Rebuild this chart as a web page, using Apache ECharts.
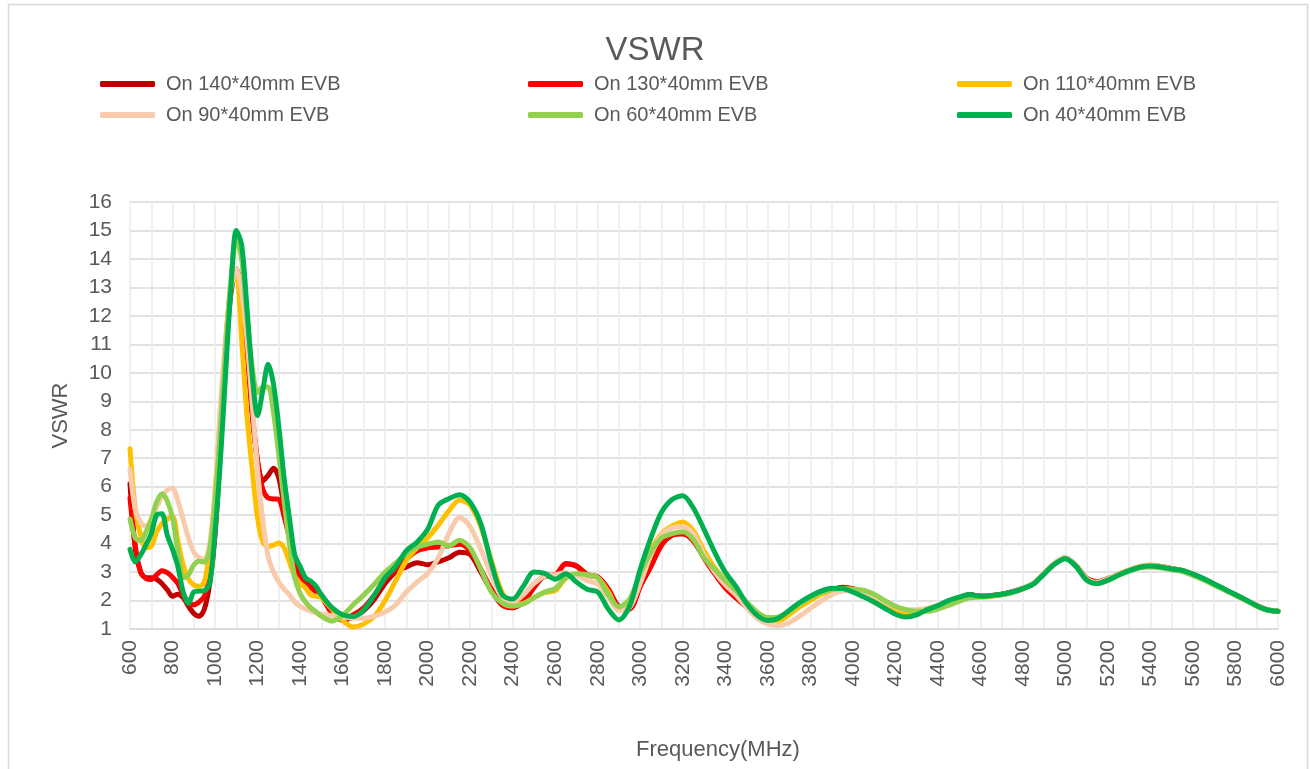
<!DOCTYPE html>
<html>
<head>
<meta charset="utf-8">
<script src="https://cdn.jsdelivr.net/npm/echarts@6/dist/echarts.min.js"></script>
<style>
html,body{margin:0;padding:0;background:#fff;}
#chart{width:1310px;height:769px;}
</style>
</head>
<body>
<div id="chart"></div>
<script>
// ---------- DATA ----------
var titleText = 'VSWR';
var xAxisName = 'Frequency(MHz)';
var yAxisName = 'VSWR';
var seriesNames = ['On 140*40mm EVB','On 130*40mm EVB','On 110*40mm EVB','On 90*40mm EVB','On 60*40mm EVB','On 40*40mm EVB'];

var freq = [600,625,650,675,700,725,750,775,800,825,850,875,900,925,950,975,1000,1025,1050,1075,1100,1125,1150,1175,1200,1225,1250,1275,1300,1325,1350,1375,1400,1425,1450,1475,1500,
1550,1600,1650,1700,1750,1800,1850,1900,1950,2000,2050,2100,2150,2200,2250,2300,2350,2400,2450,2500,2550,2600,2650,2700,2750,2800,2850,2900,2950,3000,
3050,3100,3150,3200,3250,3300,3350,3400,3450,3500,3550,3600,3650,3700,3750,3800,3850,3900,3950,4000,4050,4100,4150,4200,4250,4300,4350,
4400,4450,4500,4550,4600,4650,4700,4750,4800,4850,4900,4950,5000,5050,5100,5150,5200,5250,5300,5350,5400,5450,5500,5550,5600,5650,5700,5750,5800,5850,5900,5950,6000];

var evb140 = [6.1,3.8,3.0,2.8,2.8,2.75,2.6,2.38,2.15,2.22,2.1,1.8,1.55,1.45,1.7,2.6,4.3,7.3,10.7,12.8,13.65,12.95,10.9,8.5,6.9,6.2,6.4,6.65,6.3,5.3,4.4,3.5,3.0,2.7,2.5,2.35,2.2,
1.6,1.3,1.42,1.65,2.05,2.6,3.0,3.18,3.33,3.26,3.36,3.5,3.7,3.62,3.0,2.35,1.85,1.75,1.95,2.45,2.85,2.88,3.3,3.2,2.9,2.82,2.4,1.8,1.75,2.5,
3.2,3.95,4.3,4.35,4.1,3.5,2.95,2.45,2.1,1.78,1.5,1.35,1.35,1.55,1.8,2.05,2.25,2.38,2.45,2.4,2.3,2.1,1.9,1.72,1.65,1.65,1.7,
1.8,1.97,2.1,2.2,2.15,2.17,2.22,2.31,2.43,2.6,2.96,3.3,3.49,3.22,2.76,2.65,2.76,2.92,3.06,3.18,3.22,3.19,3.12,3.05,2.92,2.76,2.57,2.38,2.2,2.01,1.82,1.68,1.62];

var evb130 = [5.6,3.9,3.0,2.78,2.74,2.9,3.05,2.98,2.82,2.6,2.2,1.95,1.85,1.95,2.15,2.9,4.7,7.8,11.0,13.0,13.6,12.85,10.9,8.6,6.9,5.9,5.6,5.57,5.55,4.95,4.2,3.35,2.8,2.58,2.45,2.3,2.15,
1.55,1.38,1.5,1.75,2.2,2.75,3.1,3.45,3.75,3.85,3.88,3.92,3.98,3.75,3.1,2.4,1.85,1.75,2.0,2.5,2.87,2.9,3.28,3.22,2.92,2.83,2.4,1.76,1.7,2.5,
3.2,3.95,4.3,4.35,4.1,3.5,2.95,2.45,2.1,1.78,1.5,1.35,1.36,1.56,1.8,2.05,2.25,2.38,2.47,2.42,2.3,2.1,1.9,1.72,1.65,1.65,1.7,
1.8,1.98,2.1,2.2,2.16,2.17,2.21,2.3,2.42,2.6,2.95,3.3,3.5,3.23,2.78,2.66,2.77,2.92,3.07,3.18,3.22,3.2,3.12,3.05,2.92,2.76,2.57,2.38,2.2,2.01,1.82,1.67,1.62];

var evb110 = [7.33,5.2,4.3,3.85,3.9,4.4,4.7,4.85,4.95,4.1,3.25,2.75,2.55,2.5,2.65,3.8,5.8,8.5,11.0,13.0,13.5,11.2,8.5,6.6,4.9,4.05,3.9,3.95,4.02,3.85,3.35,2.85,2.6,2.45,2.2,2.15,2.1,
1.7,1.3,1.07,1.18,1.45,2.0,2.7,3.4,3.85,4.2,4.65,5.15,5.52,5.35,4.6,3.4,2.3,1.85,1.9,2.1,2.28,2.35,2.78,2.92,2.9,2.8,2.3,1.7,1.9,2.85,
3.75,4.35,4.62,4.75,4.45,3.75,3.15,2.7,2.3,1.85,1.5,1.32,1.3,1.5,1.78,2.0,2.22,2.35,2.42,2.38,2.28,2.1,1.88,1.68,1.55,1.58,1.72,
1.82,1.96,2.08,2.18,2.15,2.17,2.2,2.3,2.42,2.6,2.95,3.3,3.5,3.22,2.75,2.63,2.75,2.93,3.08,3.2,3.25,3.2,3.12,3.05,2.92,2.76,2.57,2.39,2.2,2.01,1.82,1.67,1.62];

var evb90 = [6.6,5.2,4.75,4.6,4.85,5.27,5.65,5.88,5.95,5.5,4.85,4.2,3.7,3.5,3.45,4.0,5.7,8.8,11.2,13.0,13.65,12.9,11.2,8.9,6.6,4.8,3.55,3.0,2.65,2.4,2.2,1.95,1.8,1.7,1.63,1.57,1.53,
1.47,1.42,1.38,1.38,1.45,1.6,1.85,2.3,2.65,2.95,3.5,4.35,4.92,4.6,3.8,2.9,2.15,1.95,2.2,2.6,2.85,2.9,2.98,2.88,2.7,2.58,2.1,1.65,1.75,2.6,
3.6,4.3,4.55,4.6,4.35,3.6,3.0,2.55,2.2,1.75,1.38,1.18,1.12,1.22,1.45,1.72,1.98,2.2,2.33,2.35,2.3,2.15,1.95,1.78,1.68,1.68,1.72,
1.8,1.95,2.08,2.17,2.14,2.16,2.2,2.3,2.43,2.62,2.97,3.32,3.52,3.24,2.76,2.64,2.76,2.92,3.07,3.19,3.23,3.19,3.11,3.04,2.91,2.75,2.56,2.38,2.2,2.01,1.82,1.67,1.62];

var evb60 = [4.86,4.2,4.1,4.4,4.85,5.45,5.75,5.5,4.9,3.75,2.8,2.9,3.25,3.38,3.35,3.8,5.5,8.0,10.8,13.3,14.7,14.0,12.0,10.2,9.3,9.5,9.5,8.6,7.1,5.5,4.0,2.8,2.25,1.95,1.75,1.6,1.45,
1.28,1.48,1.85,2.2,2.58,3.0,3.32,3.65,3.88,3.98,4.06,3.92,4.12,3.85,3.1,2.3,1.92,1.8,1.88,2.1,2.3,2.42,2.8,2.94,2.9,2.8,2.2,1.78,2.05,2.95,
3.7,4.2,4.35,4.42,4.15,3.5,3.1,2.7,2.35,1.95,1.6,1.4,1.42,1.62,1.88,2.1,2.28,2.38,2.42,2.4,2.36,2.22,2.0,1.8,1.68,1.62,1.62,
1.7,1.83,1.97,2.1,2.12,2.15,2.2,2.28,2.42,2.6,2.95,3.3,3.48,3.2,2.72,2.6,2.7,2.88,3.03,3.15,3.18,3.15,3.08,3.02,2.88,2.72,2.54,2.36,2.18,2.0,1.8,1.66,1.62];

var evb40 = [3.8,3.35,3.6,3.95,4.35,5.0,5.05,4.3,3.8,3.2,2.3,1.9,2.3,2.33,2.35,2.6,4.4,6.9,10.0,13.0,15.0,14.5,12.3,9.9,8.5,9.4,10.3,9.6,8.1,6.3,4.9,3.6,3.2,2.8,2.68,2.5,2.2,
1.75,1.5,1.44,1.68,2.2,2.8,3.2,3.75,4.05,4.5,5.35,5.58,5.72,5.45,4.7,3.3,2.2,2.05,2.5,3.0,2.95,2.75,2.94,2.65,2.4,2.3,1.7,1.32,1.8,3.1,
4.2,5.1,5.55,5.68,5.25,4.5,3.7,3.0,2.5,1.9,1.48,1.3,1.38,1.65,1.93,2.15,2.33,2.43,2.42,2.3,2.13,1.95,1.73,1.52,1.42,1.5,1.68,
1.82,2.0,2.12,2.21,2.15,2.18,2.22,2.3,2.42,2.58,2.93,3.28,3.47,3.2,2.72,2.6,2.72,2.9,3.05,3.17,3.21,3.18,3.11,3.06,2.93,2.77,2.58,2.4,2.21,2.02,1.82,1.67,1.62];

var seriesValues = [evb140, evb130, evb110, evb90, evb60, evb40];

// ---------- STYLE ----------
var colors = ['#C00000','#FF0000','#FFC000','#F8CBAD','#92D050','#00B050'];
var FONT = 'Liberation Sans';
var TXT = '#595959';

function pairs(vals){
  var out = [];
  for (var i = 0; i < freq.length; i++) out.push([freq[i], vals[i]]);
  return out;
}

var legendPos = [
  {left: 95, top: 69}, {left: 523, top: 69}, {left: 952, top: 69},
  {left: 95, top: 100}, {left: 523, top: 100}, {left: 952, top: 100}
];

var legends = seriesNames.map(function(n, i){
  return {
    data: [n],
    left: legendPos[i].left,
    top: legendPos[i].top,
    icon: 'roundRect',
    itemWidth: 55,
    itemHeight: 6,
    selectedMode: false,
    textStyle: {fontFamily: FONT, fontSize: 20, color: TXT, padding: [0,0,0,6]}
  };
});

var chart = echarts.init(document.getElementById('chart'), null, {renderer: 'canvas'});
chart.setOption({
  animation: false,
  backgroundColor: '#fff',
  color: colors,
  graphic: [{
    type: 'rect', shape: {x: 8.5, y: 4.5, width: 1299, height: 780},
    style: {fill: 'none', stroke: '#d9d9d9', lineWidth: 1.5}, z: -10, silent: true
  }],
  title: {
    text: titleText, left: 'center', top: 29,
    textStyle: {fontFamily: FONT, fontSize: 33, fontWeight: 'normal', color: TXT}
  },
  legend: legends,
  grid: {left: 130, right: 32, top: 202, bottom: 140, containLabel: false, outerBoundsMode: 'none'},
  xAxis: {
    type: 'value', min: 600, max: 6000, interval: 200,
    name: xAxisName, nameLocation: 'middle', nameGap: 110,
    nameTextStyle: {fontFamily: FONT, fontSize: 22, color: TXT, padding: [0,0,0,28]},
    axisLine: {show: true, lineStyle: {color: '#d9d9d9', width: 1.5}},
    axisTick: {show: false},
    axisLabel: {rotate: 90, margin: 11, fontFamily: FONT, fontSize: 21, color: TXT,
      formatter: function(v){ return String(v); }},
    splitLine: {show: true, lineStyle: {color: '#ebebeb', width: 1.5}},
    minorTick: {show: false, splitNumber: 2},
    minorSplitLine: {show: true, lineStyle: {color: '#ebebeb', width: 1.5}}
  },
  yAxis: {
    type: 'value', min: 1, max: 16, interval: 1,
    name: yAxisName, nameLocation: 'middle', nameGap: 58, nameRotate: 90,
    nameTextStyle: {fontFamily: FONT, fontSize: 22, color: TXT},
    axisLine: {show: false}, axisTick: {show: false},
    axisLabel: {margin: 18, fontFamily: FONT, fontSize: 21, color: TXT},
    splitLine: {show: true, lineStyle: {color: '#d9d9d9', width: 1.5}}
  },
  series: seriesNames.map(function(n, i){
    return {
      name: n, type: 'line', data: pairs(seriesValues[i]),
      smooth: 0.3, showSymbol: false, symbol: 'none',
      lineStyle: {width: 5, color: colors[i], cap: 'round', join: 'round'},
      itemStyle: {color: colors[i]},
      z: 2 + i
    };
  })
});
</script>
</body>
</html>
